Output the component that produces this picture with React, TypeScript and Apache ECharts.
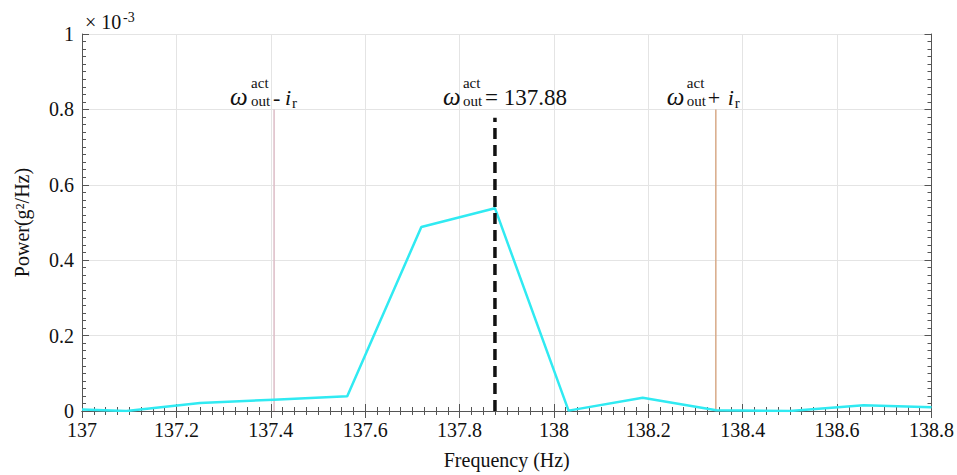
import React, { useEffect, useRef } from "react";
import * as echarts from "echarts";

// Spectrum (units of 1e-3 g^2/Hz)
const freq = [137.0, 137.094, 137.25, 137.406, 137.562, 137.719, 137.875, 138.031, 138.188, 138.344, 138.5, 138.656, 138.8];
const power = [0.004, 0.0, 0.021, 0.03, 0.039, 0.488, 0.538, 0.001, 0.035, 0.002, 0.0, 0.015, 0.01];

// Marker lines
const actFreq = 137.875;
const lowFreq = 137.407;
const highFreq = 138.343;
const actTop = 0.778;
const sideTop = 0.8;
const labelLevel = 0.812;

const xMin = 137;
const xMax = 138.8;
const xStep = 0.2;
const yMin = 0;
const yMax = 1;
const yStep = 0.2;

const SERIF = '"Liberation Serif", "DejaVu Serif", serif';

export default function App() {
  const ref = useRef<HTMLDivElement>(null);
  useEffect(() => {
    const chart = echarts.init(ref.current!, null, { renderer: "svg" });
    const axisColor = "#555";
    const gridColor = "#e4e4e4";
    const baseX = {
      type: "value",
      min: xMin,
      max: xMax,
      interval: xStep,
      axisLine: { show: true, lineStyle: { color: axisColor, width: 1 } },
      axisTick: { show: true, inside: true, length: 7, lineStyle: { color: axisColor } },
      minorTick: { show: true, splitNumber: 8, length: 4, lineStyle: { color: axisColor } },
    };
    const baseY = {
      type: "value",
      min: yMin,
      max: yMax,
      interval: yStep,
      axisLine: { show: true, lineStyle: { color: axisColor, width: 1 } },
      axisTick: { show: true, inside: true, length: 7, lineStyle: { color: axisColor } },
      minorTick: { show: true, splitNumber: 10, length: 4, lineStyle: { color: axisColor } },
    };
    const option: any = {
      animation: false,
      backgroundColor: "#fff",
      grid: { left: 82, right: 25, top: 34, bottom: 60 },
      xAxis: [
        {
          ...baseX,
          position: "bottom",
          name: "Frequency (Hz)",
          nameLocation: "middle",
          nameGap: 39,
          nameTextStyle: { fontFamily: SERIF, fontSize: 20, color: "#111" },
          axisLabel: { fontFamily: SERIF, fontSize: 20, color: "#111", margin: 9 },
          splitLine: { show: true, lineStyle: { color: gridColor, width: 1 } },
        },
        {
          ...baseX,
          position: "top",
          axisLabel: { show: false },
          splitLine: { show: false },
        },
      ],
      yAxis: [
        {
          ...baseY,
          position: "left",
          name: "Power(g²/Hz)",
          nameLocation: "middle",
          nameGap: 50,
          nameTextStyle: { fontFamily: SERIF, fontSize: 20, color: "#111" },
          axisLabel: { fontFamily: SERIF, fontSize: 20, color: "#111", margin: 8 },
          splitLine: { show: true, lineStyle: { color: gridColor, width: 1 } },
        },
        {
          ...baseY,
          position: "right",
          axisLabel: { show: false },
          splitLine: { show: false },
        },
      ],
      series: [
        {
          type: "line",
          data: [[lowFreq, 0], [lowFreq, sideTop]],
          symbol: "none",
          lineStyle: { color: "#dcbcc6", width: 1.5 },
          z: 2,
        },
        {
          type: "line",
          data: [[highFreq, 0], [highFreq, sideTop]],
          symbol: "none",
          lineStyle: { color: "#d8aa88", width: 1.5 },
          z: 2,
        },
        {
          type: "line",
          data: freq.map((f, i) => [f, power[i]]),
          symbol: "none",
          lineStyle: { color: "#30eaf2", width: 2.5 },
          z: 3,
        },
        {
          type: "line",
          data: [[actFreq, 0], [actFreq, actTop]],
          symbol: "none",
          lineStyle: { color: "#111", width: 3.5, type: [11, 6] },
          z: 4,
        },
      ],
    };
    chart.setOption(option);

    const px = (x: number, y: number) => chart.convertToPixel({ gridIndex: 0 }, [x, y]) as number[];
    const mid = (baseline: number, size: number) => baseline - 0.33 * size;
    const txt = (x: number, baseline: number, text: string, size: number, italic = false) => ({
      type: "text",
      x,
      y: mid(baseline, size),
      style: {
        text,
        font: `${italic ? "italic " : ""}${size}px ${SERIF}`,
        fill: "#111",
        verticalAlign: "middle",
        align: "left",
      },
    });
    const omega = (x0: number, yb: number, sx: number) => [
      txt(x0, yb, "ω", 25, true),
      txt(x0 + sx, yb - 17, "act", 15),
      txt(x0 + sx, yb + 1, "out", 15),
    ];
    const [xl, yb] = px(lowFreq, labelLevel);
    const [xa] = px(actFreq, labelLevel);
    const [xh] = px(highFreq, labelLevel);
    const [x0p, y0p] = px(xMin, yMax);

    const graphics: any[] = [];
    // minus label
    const l0 = xl - 44;
    graphics.push(...omega(l0, yb, 21));
    graphics.push(txt(l0 + 43, yb, "-", 22));
    graphics.push(txt(l0 + 55, yb, "i", 22, true));
    graphics.push(txt(l0 + 62, yb + 3, "r", 15));
    // act label
    const a0 = xa - 52;
    graphics.push(...omega(a0, yb, 20));
    graphics.push(txt(a0 + 42, yb, "= 137.88", 23));
    // plus label
    const h0 = xh - 49;
    graphics.push(...omega(h0, yb, 20));
    graphics.push(txt(h0 + 41, yb, "+", 22));
    graphics.push(txt(h0 + 61, yb, "i", 22, true));
    graphics.push(txt(h0 + 68, yb + 3, "r", 15));
    // exponent
    graphics.push(txt(x0p + 3, y0p - 5, "× 10", 20));
    graphics.push(txt(x0p + 41, y0p - 12, "-3", 14));

    chart.setOption({ graphic: graphics });
    return () => chart.dispose();
  }, []);
  return <div ref={ref} style={{ position: "fixed", left: 0, top: 0, width: 957, height: 475 }} />;
}
